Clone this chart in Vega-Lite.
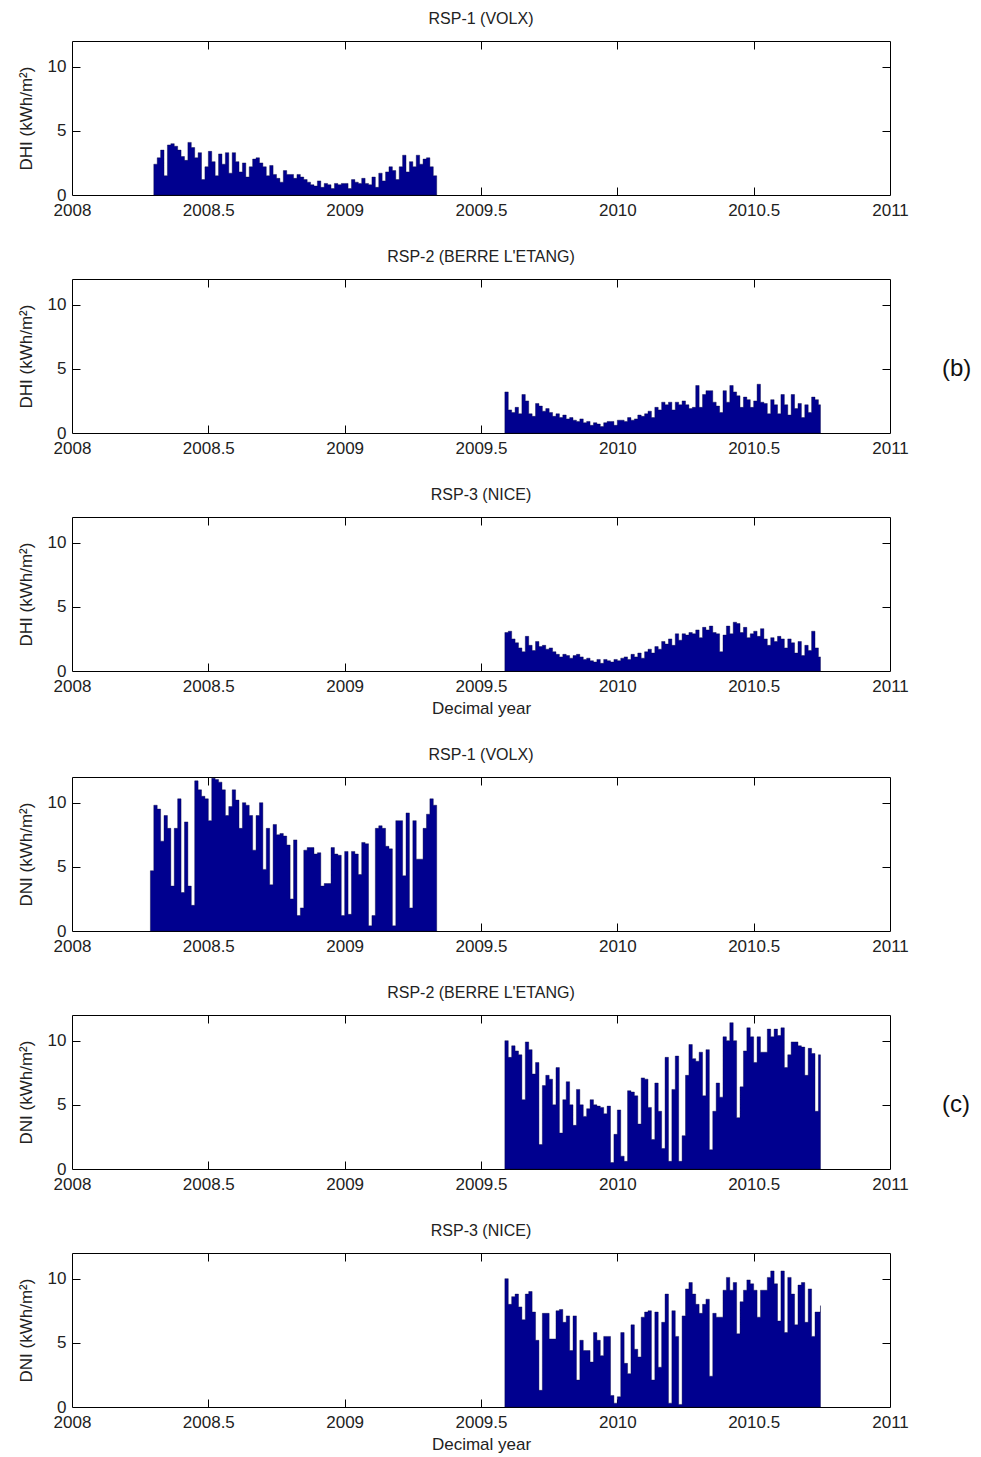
{
  "$schema": "https://vega.github.io/schema/vega-lite/v6.json",
  "padding": {"left": 16, "top": 10, "right": 4, "bottom": 2},
  "background": "white",
  "datasets": {
    "d1": [
      {"year":2008.3,"value":2.4},{"year":2008.3125,"value":2.9},{"year":2008.325,"value":3.5},{"year":2008.3375,"value":1.5},
      {"year":2008.35,"value":3.9},{"year":2008.3625,"value":4.0},{"year":2008.375,"value":3.8},{"year":2008.3875,"value":3.5},
      {"year":2008.4,"value":3.0},{"year":2008.4125,"value":2.7},{"year":2008.425,"value":4.1},{"year":2008.4375,"value":3.7},
      {"year":2008.45,"value":2.9},{"year":2008.4625,"value":3.3},{"year":2008.475,"value":1.2},{"year":2008.4875,"value":2.2},
      {"year":2008.5,"value":3.4},{"year":2008.5125,"value":2.6},{"year":2008.525,"value":1.5},{"year":2008.5375,"value":3.2},
      {"year":2008.55,"value":2.4},{"year":2008.5625,"value":3.3},{"year":2008.575,"value":1.7},{"year":2008.5875,"value":3.3},
      {"year":2008.6,"value":2.6},{"year":2008.6125,"value":1.8},{"year":2008.625,"value":2.5},{"year":2008.6375,"value":1.4},
      {"year":2008.65,"value":2.2},{"year":2008.6625,"value":2.8},{"year":2008.675,"value":2.9},{"year":2008.6875,"value":2.5},
      {"year":2008.7,"value":2.2},{"year":2008.7125,"value":1.5},{"year":2008.725,"value":2.3},{"year":2008.7375,"value":1.6},
      {"year":2008.75,"value":1.3},{"year":2008.7625,"value":1.0},{"year":2008.775,"value":1.9},{"year":2008.7875,"value":1.6},
      {"year":2008.8,"value":1.6},{"year":2008.8125,"value":1.3},{"year":2008.825,"value":1.6},{"year":2008.8375,"value":1.4},
      {"year":2008.85,"value":1.2},{"year":2008.8625,"value":1.0},{"year":2008.875,"value":0.8},{"year":2008.8875,"value":0.7},
      {"year":2008.9,"value":1.1},{"year":2008.9125,"value":0.6},{"year":2008.925,"value":0.9},{"year":2008.9375,"value":0.8},
      {"year":2008.95,"value":0.5},{"year":2008.9625,"value":0.9},{"year":2008.975,"value":0.8},{"year":2008.9875,"value":0.9},
      {"year":2009.0,"value":0.9},{"year":2009.0125,"value":0.5},{"year":2009.025,"value":1.2},{"year":2009.0375,"value":1.0},
      {"year":2009.05,"value":0.9},{"year":2009.0625,"value":1.3},{"year":2009.075,"value":0.9},{"year":2009.0875,"value":0.8},
      {"year":2009.1,"value":1.4},{"year":2009.1125,"value":0.6},{"year":2009.125,"value":1.7},{"year":2009.1375,"value":1.1},
      {"year":2009.15,"value":1.8},{"year":2009.1625,"value":2.2},{"year":2009.175,"value":1.9},{"year":2009.1875,"value":1.2},
      {"year":2009.2,"value":2.2},{"year":2009.2125,"value":3.1},{"year":2009.225,"value":1.8},{"year":2009.2375,"value":2.6},
      {"year":2009.25,"value":2.2},{"year":2009.2625,"value":3.1},{"year":2009.275,"value":2.4},{"year":2009.2875,"value":2.8},
      {"year":2009.3,"value":2.9},{"year":2009.3125,"value":2.2},{"year":2009.325,"value":1.5},{"year":2009.3375,"value":1.5}
    ],
    "d2": [
      {"year":2009.5875,"value":3.2},{"year":2009.6,"value":1.8},{"year":2009.6125,"value":1.6},{"year":2009.625,"value":2.0},
      {"year":2009.6375,"value":1.5},{"year":2009.65,"value":3.0},{"year":2009.6625,"value":2.5},{"year":2009.675,"value":1.5},
      {"year":2009.6875,"value":1.3},{"year":2009.7,"value":2.3},{"year":2009.7125,"value":2.1},{"year":2009.725,"value":1.7},
      {"year":2009.7375,"value":1.9},{"year":2009.75,"value":1.6},{"year":2009.7625,"value":1.3},{"year":2009.775,"value":1.5},
      {"year":2009.7875,"value":1.2},{"year":2009.8,"value":1.4},{"year":2009.8125,"value":1.1},{"year":2009.825,"value":1.2},
      {"year":2009.8375,"value":1.0},{"year":2009.85,"value":0.9},{"year":2009.8625,"value":1.1},{"year":2009.875,"value":0.8},
      {"year":2009.8875,"value":0.9},{"year":2009.9,"value":0.6},{"year":2009.9125,"value":0.8},{"year":2009.925,"value":0.7},
      {"year":2009.9375,"value":0.5},{"year":2009.95,"value":0.8},{"year":2009.9625,"value":0.9},{"year":2009.975,"value":0.9},
      {"year":2009.9875,"value":0.6},{"year":2010.0,"value":1.0},{"year":2010.0125,"value":1.0},{"year":2010.025,"value":0.9},
      {"year":2010.0375,"value":1.2},{"year":2010.05,"value":1.0},{"year":2010.0625,"value":1.1},{"year":2010.075,"value":1.4},
      {"year":2010.0875,"value":1.3},{"year":2010.1,"value":1.5},{"year":2010.1125,"value":1.7},{"year":2010.125,"value":1.2},
      {"year":2010.1375,"value":2.0},{"year":2010.15,"value":1.8},{"year":2010.1625,"value":2.4},{"year":2010.175,"value":2.2},
      {"year":2010.1875,"value":2.4},{"year":2010.2,"value":1.8},{"year":2010.2125,"value":2.4},{"year":2010.225,"value":2.2},
      {"year":2010.2375,"value":2.5},{"year":2010.25,"value":2.2},{"year":2010.2625,"value":1.9},{"year":2010.275,"value":2.0},
      {"year":2010.2875,"value":3.7},{"year":2010.3,"value":2.0},{"year":2010.3125,"value":3.0},{"year":2010.325,"value":3.3},
      {"year":2010.3375,"value":3.3},{"year":2010.35,"value":2.4},{"year":2010.3625,"value":2.1},{"year":2010.375,"value":1.6},
      {"year":2010.3875,"value":3.3},{"year":2010.4,"value":2.4},{"year":2010.4125,"value":3.7},{"year":2010.425,"value":3.2},
      {"year":2010.4375,"value":2.9},{"year":2010.45,"value":2.0},{"year":2010.4625,"value":2.8},{"year":2010.475,"value":2.6},
      {"year":2010.4875,"value":2.0},{"year":2010.5,"value":2.5},{"year":2010.5125,"value":3.8},{"year":2010.525,"value":2.4},
      {"year":2010.5375,"value":2.3},{"year":2010.55,"value":1.5},{"year":2010.5625,"value":2.6},{"year":2010.575,"value":2.2},
      {"year":2010.5875,"value":1.5},{"year":2010.6,"value":3.0},{"year":2010.6125,"value":2.2},{"year":2010.625,"value":1.4},
      {"year":2010.6375,"value":3.0},{"year":2010.65,"value":1.9},{"year":2010.6625,"value":2.3},{"year":2010.675,"value":1.2},
      {"year":2010.6875,"value":2.2},{"year":2010.7,"value":1.6},{"year":2010.7125,"value":2.8},{"year":2010.725,"value":2.6},
      {"year":2010.7375,"value":2.2},{"year":2010.745,"value":2.2}
    ],
    "d3": [
      {"year":2009.5875,"value":3.0},{"year":2009.6,"value":3.1},{"year":2009.6125,"value":2.5},{"year":2009.625,"value":2.2},
      {"year":2009.6375,"value":1.8},{"year":2009.65,"value":1.5},{"year":2009.6625,"value":2.7},{"year":2009.675,"value":2.0},
      {"year":2009.6875,"value":1.6},{"year":2009.7,"value":2.3},{"year":2009.7125,"value":1.9},{"year":2009.725,"value":2.0},
      {"year":2009.7375,"value":1.7},{"year":2009.75,"value":1.8},{"year":2009.7625,"value":1.5},{"year":2009.775,"value":1.3},
      {"year":2009.7875,"value":1.1},{"year":2009.8,"value":1.3},{"year":2009.8125,"value":1.2},{"year":2009.825,"value":1.0},
      {"year":2009.8375,"value":1.2},{"year":2009.85,"value":1.3},{"year":2009.8625,"value":1.1},{"year":2009.875,"value":0.9},
      {"year":2009.8875,"value":1.0},{"year":2009.9,"value":0.8},{"year":2009.9125,"value":0.7},{"year":2009.925,"value":0.9},
      {"year":2009.9375,"value":0.6},{"year":2009.95,"value":0.9},{"year":2009.9625,"value":0.8},{"year":2009.975,"value":0.7},
      {"year":2009.9875,"value":0.9},{"year":2010.0,"value":0.8},{"year":2010.0125,"value":1.0},{"year":2010.025,"value":1.1},
      {"year":2010.0375,"value":0.9},{"year":2010.05,"value":1.3},{"year":2010.0625,"value":1.1},{"year":2010.075,"value":1.4},
      {"year":2010.0875,"value":1.0},{"year":2010.1,"value":1.5},{"year":2010.1125,"value":1.7},{"year":2010.125,"value":1.4},
      {"year":2010.1375,"value":1.9},{"year":2010.15,"value":1.7},{"year":2010.1625,"value":2.3},{"year":2010.175,"value":2.1},
      {"year":2010.1875,"value":2.5},{"year":2010.2,"value":2.0},{"year":2010.2125,"value":2.9},{"year":2010.225,"value":2.4},
      {"year":2010.2375,"value":2.9},{"year":2010.25,"value":2.8},{"year":2010.2625,"value":3.0},{"year":2010.275,"value":2.9},
      {"year":2010.2875,"value":3.2},{"year":2010.3,"value":2.6},{"year":2010.3125,"value":3.4},{"year":2010.325,"value":3.2},
      {"year":2010.3375,"value":3.5},{"year":2010.35,"value":3.0},{"year":2010.3625,"value":2.9},{"year":2010.375,"value":1.5},
      {"year":2010.3875,"value":2.8},{"year":2010.4,"value":3.5},{"year":2010.4125,"value":2.9},{"year":2010.425,"value":3.8},
      {"year":2010.4375,"value":3.7},{"year":2010.45,"value":3.0},{"year":2010.4625,"value":3.4},{"year":2010.475,"value":2.6},
      {"year":2010.4875,"value":2.9},{"year":2010.5,"value":3.1},{"year":2010.5125,"value":2.7},{"year":2010.525,"value":3.3},
      {"year":2010.5375,"value":2.5},{"year":2010.55,"value":2.0},{"year":2010.5625,"value":2.6},{"year":2010.575,"value":2.3},
      {"year":2010.5875,"value":2.7},{"year":2010.6,"value":2.5},{"year":2010.6125,"value":1.8},{"year":2010.625,"value":2.5},
      {"year":2010.6375,"value":2.2},{"year":2010.65,"value":1.4},{"year":2010.6625,"value":2.3},{"year":2010.675,"value":1.2},
      {"year":2010.6875,"value":2.0},{"year":2010.7,"value":1.6},{"year":2010.7125,"value":3.1},{"year":2010.725,"value":1.8},
      {"year":2010.7375,"value":1.1},{"year":2010.745,"value":1.1}
    ],
    "d4": [
      {"year":2008.2875,"value":4.7},{"year":2008.3,"value":9.8},{"year":2008.3125,"value":9.5},{"year":2008.325,"value":7.0},
      {"year":2008.3375,"value":9.0},{"year":2008.35,"value":8.0},{"year":2008.3625,"value":3.5},{"year":2008.375,"value":8.0},
      {"year":2008.3875,"value":10.3},{"year":2008.4,"value":3.0},{"year":2008.4125,"value":8.5},{"year":2008.425,"value":3.5},
      {"year":2008.4375,"value":2.0},{"year":2008.45,"value":11.7},{"year":2008.4625,"value":11.0},{"year":2008.475,"value":10.5},
      {"year":2008.4875,"value":10.3},{"year":2008.5,"value":8.6},{"year":2008.5125,"value":11.9},{"year":2008.525,"value":11.8},
      {"year":2008.5375,"value":11.6},{"year":2008.55,"value":11.0},{"year":2008.5625,"value":9.0},{"year":2008.575,"value":9.7},
      {"year":2008.5875,"value":11.0},{"year":2008.6,"value":10.2},{"year":2008.6125,"value":8.0},{"year":2008.625,"value":10.0},
      {"year":2008.6375,"value":9.8},{"year":2008.65,"value":9.0},{"year":2008.6625,"value":6.3},{"year":2008.675,"value":9.0},
      {"year":2008.6875,"value":10.0},{"year":2008.7,"value":4.8},{"year":2008.7125,"value":8.0},{"year":2008.725,"value":3.6},
      {"year":2008.7375,"value":8.3},{"year":2008.75,"value":7.5},{"year":2008.7625,"value":7.6},{"year":2008.775,"value":7.4},
      {"year":2008.7875,"value":6.7},{"year":2008.8,"value":2.5},{"year":2008.8125,"value":7.1},{"year":2008.825,"value":1.2},
      {"year":2008.8375,"value":1.8},{"year":2008.85,"value":6.3},{"year":2008.8625,"value":6.5},{"year":2008.875,"value":6.5},
      {"year":2008.8875,"value":6.0},{"year":2008.9,"value":6.1},{"year":2008.9125,"value":3.5},{"year":2008.925,"value":3.7},
      {"year":2008.9375,"value":3.7},{"year":2008.95,"value":6.5},{"year":2008.9625,"value":6.0},{"year":2008.975,"value":5.9},
      {"year":2008.9875,"value":1.2},{"year":2009.0,"value":6.2},{"year":2009.0125,"value":1.3},{"year":2009.025,"value":6.2},
      {"year":2009.0375,"value":6.0},{"year":2009.05,"value":4.4},{"year":2009.0625,"value":6.9},{"year":2009.075,"value":6.8},
      {"year":2009.0875,"value":0.4},{"year":2009.1,"value":1.2},{"year":2009.1125,"value":8.0},{"year":2009.125,"value":8.2},
      {"year":2009.1375,"value":8.0},{"year":2009.15,"value":6.6},{"year":2009.1625,"value":6.4},{"year":2009.175,"value":0.4},
      {"year":2009.1875,"value":8.6},{"year":2009.2,"value":8.6},{"year":2009.2125,"value":4.3},{"year":2009.225,"value":9.2},
      {"year":2009.2375,"value":1.8},{"year":2009.25,"value":8.6},{"year":2009.2625,"value":5.6},{"year":2009.275,"value":5.6},
      {"year":2009.2875,"value":8.0},{"year":2009.3,"value":9.1},{"year":2009.3125,"value":10.3},{"year":2009.325,"value":9.8},
      {"year":2009.3375,"value":8.8}
    ],
    "d5": [
      {"year":2009.5875,"value":10.0},{"year":2009.6,"value":8.7},{"year":2009.6125,"value":9.6},{"year":2009.625,"value":9.2},
      {"year":2009.6375,"value":8.9},{"year":2009.65,"value":5.4},{"year":2009.6625,"value":9.9},{"year":2009.675,"value":9.3},
      {"year":2009.6875,"value":7.4},{"year":2009.7,"value":8.3},{"year":2009.7125,"value":1.9},{"year":2009.725,"value":6.5},
      {"year":2009.7375,"value":7.3},{"year":2009.75,"value":7.0},{"year":2009.7625,"value":5.0},{"year":2009.775,"value":7.9},
      {"year":2009.7875,"value":2.8},{"year":2009.8,"value":5.4},{"year":2009.8125,"value":6.8},{"year":2009.825,"value":5.0},
      {"year":2009.8375,"value":3.4},{"year":2009.85,"value":6.2},{"year":2009.8625,"value":5.0},{"year":2009.875,"value":4.1},
      {"year":2009.8875,"value":4.7},{"year":2009.9,"value":5.4},{"year":2009.9125,"value":5.0},{"year":2009.925,"value":4.9},
      {"year":2009.9375,"value":4.8},{"year":2009.95,"value":4.3},{"year":2009.9625,"value":4.9},{"year":2009.975,"value":0.5},
      {"year":2009.9875,"value":2.7},{"year":2010.0,"value":4.6},{"year":2010.0125,"value":1.0},{"year":2010.025,"value":0.6},
      {"year":2010.0375,"value":6.1},{"year":2010.05,"value":6.0},{"year":2010.0625,"value":5.7},{"year":2010.075,"value":3.5},
      {"year":2010.0875,"value":7.1},{"year":2010.1,"value":7.0},{"year":2010.1125,"value":4.8},{"year":2010.125,"value":2.3},
      {"year":2010.1375,"value":6.7},{"year":2010.15,"value":4.5},{"year":2010.1625,"value":1.6},{"year":2010.175,"value":8.7},
      {"year":2010.1875,"value":0.6},{"year":2010.2,"value":6.2},{"year":2010.2125,"value":8.8},{"year":2010.225,"value":0.6},
      {"year":2010.2375,"value":2.6},{"year":2010.25,"value":7.3},{"year":2010.2625,"value":9.7},{"year":2010.275,"value":8.6},
      {"year":2010.2875,"value":8.4},{"year":2010.3,"value":9.1},{"year":2010.3125,"value":5.7},{"year":2010.325,"value":9.3},
      {"year":2010.3375,"value":1.5},{"year":2010.35,"value":4.5},{"year":2010.3625,"value":6.7},{"year":2010.375,"value":5.6},
      {"year":2010.3875,"value":10.3},{"year":2010.4,"value":10.0},{"year":2010.4125,"value":11.4},{"year":2010.425,"value":10.0},
      {"year":2010.4375,"value":4.0},{"year":2010.45,"value":6.4},{"year":2010.4625,"value":9.2},{"year":2010.475,"value":11.0},
      {"year":2010.4875,"value":10.3},{"year":2010.5,"value":8.3},{"year":2010.5125,"value":10.3},{"year":2010.525,"value":9.1},
      {"year":2010.5375,"value":9.1},{"year":2010.55,"value":10.9},{"year":2010.5625,"value":10.3},{"year":2010.575,"value":10.9},
      {"year":2010.5875,"value":10.4},{"year":2010.6,"value":11.0},{"year":2010.6125,"value":7.9},{"year":2010.625,"value":8.9},
      {"year":2010.6375,"value":9.9},{"year":2010.65,"value":9.9},{"year":2010.6625,"value":9.6},{"year":2010.675,"value":9.5},
      {"year":2010.6875,"value":7.3},{"year":2010.7,"value":9.4},{"year":2010.7125,"value":9.0},{"year":2010.725,"value":4.5},
      {"year":2010.7375,"value":8.9},{"year":2010.745,"value":8.9}
    ],
    "d6": [
      {"year":2009.5875,"value":10.0},{"year":2009.6,"value":8.0},{"year":2009.6125,"value":8.6},{"year":2009.625,"value":8.8},
      {"year":2009.6375,"value":7.8},{"year":2009.65,"value":6.8},{"year":2009.6625,"value":8.8},{"year":2009.675,"value":9.0},
      {"year":2009.6875,"value":7.4},{"year":2009.7,"value":5.2},{"year":2009.7125,"value":1.3},{"year":2009.725,"value":7.3},
      {"year":2009.7375,"value":7.3},{"year":2009.75,"value":5.3},{"year":2009.7625,"value":5.3},{"year":2009.775,"value":7.5},
      {"year":2009.7875,"value":7.6},{"year":2009.8,"value":6.6},{"year":2009.8125,"value":7.1},{"year":2009.825,"value":4.4},
      {"year":2009.8375,"value":7.1},{"year":2009.85,"value":2.1},{"year":2009.8625,"value":5.2},{"year":2009.875,"value":4.4},
      {"year":2009.8875,"value":4.4},{"year":2009.9,"value":3.5},{"year":2009.9125,"value":5.8},{"year":2009.925,"value":5.2},
      {"year":2009.9375,"value":4.0},{"year":2009.95,"value":5.5},{"year":2009.9625,"value":5.5},{"year":2009.975,"value":0.9},
      {"year":2009.9875,"value":0.3},{"year":2010.0,"value":0.8},{"year":2010.0125,"value":5.8},{"year":2010.025,"value":3.4},
      {"year":2010.0375,"value":2.6},{"year":2010.05,"value":6.4},{"year":2010.0625,"value":4.5},{"year":2010.075,"value":3.9},
      {"year":2010.0875,"value":7.0},{"year":2010.1,"value":7.4},{"year":2010.1125,"value":7.5},{"year":2010.125,"value":2.1},
      {"year":2010.1375,"value":7.4},{"year":2010.15,"value":3.1},{"year":2010.1625,"value":6.6},{"year":2010.175,"value":8.8},
      {"year":2010.1875,"value":0.3},{"year":2010.2,"value":7.5},{"year":2010.2125,"value":5.5},{"year":2010.225,"value":0.2},
      {"year":2010.2375,"value":7.1},{"year":2010.25,"value":9.2},{"year":2010.2625,"value":9.7},{"year":2010.275,"value":8.8},
      {"year":2010.2875,"value":8.0},{"year":2010.3,"value":7.3},{"year":2010.3125,"value":8.0},{"year":2010.325,"value":8.4},
      {"year":2010.3375,"value":2.4},{"year":2010.35,"value":7.3},{"year":2010.3625,"value":7.0},{"year":2010.375,"value":7.0},
      {"year":2010.3875,"value":9.1},{"year":2010.4,"value":10.1},{"year":2010.4125,"value":9.1},{"year":2010.425,"value":9.7},
      {"year":2010.4375,"value":5.7},{"year":2010.45,"value":8.2},{"year":2010.4625,"value":9.1},{"year":2010.475,"value":9.9},
      {"year":2010.4875,"value":9.6},{"year":2010.5,"value":9.1},{"year":2010.5125,"value":7.0},{"year":2010.525,"value":9.1},
      {"year":2010.5375,"value":9.1},{"year":2010.55,"value":10.1},{"year":2010.5625,"value":10.6},{"year":2010.575,"value":9.6},
      {"year":2010.5875,"value":6.7},{"year":2010.6,"value":10.6},{"year":2010.6125,"value":5.8},{"year":2010.625,"value":10.1},
      {"year":2010.6375,"value":8.8},{"year":2010.65,"value":6.4},{"year":2010.6625,"value":9.5},{"year":2010.675,"value":9.7},
      {"year":2010.6875,"value":6.6},{"year":2010.7,"value":9.2},{"year":2010.7125,"value":5.5},{"year":2010.725,"value":7.4},
      {"year":2010.7375,"value":7.4},{"year":2010.745,"value":7.9}
    ]
  },
  "vconcat": [
    {
      "title": "RSP-1 (VOLX)", "width": 818, "height": 154, "data": {"name": "d1"},
      "layer": [
        {"mark": {"type": "area", "interpolate": "step-after", "color": "#00008F", "stroke": "#000040", "strokeWidth": 0.4},
         "encoding": {
           "x": {"field": "year", "type": "quantitative", "scale": {"domain": [2008, 2011], "nice": false, "zero": false},
                 "axis": {"orient": "bottom", "values": [2008, 2008.5, 2009, 2009.5, 2010, 2010.5, 2011], "format": ".6~g", "ticks": false, "tickSize": 0, "labelPadding": 7, "title": null}},
           "y": {"field": "value", "type": "quantitative", "scale": {"domain": [0, 12], "nice": false},
                 "axis": {"orient": "left", "values": [0, 5, 10], "ticks": false, "tickSize": 0, "labelPadding": 6, "title": "DHI (kWh/m²)", "titlePadding": 12}}}},
        {"mark": {"type": "area", "opacity": 0},
         "encoding": {
           "x": {"field": "year", "type": "quantitative", "axis": {"orient": "bottom", "values": [2008.5, 2009, 2009.5, 2010, 2010.5], "labels": false, "tickSize": 8, "offset": -8, "title": null}},
           "y": {"field": "value", "type": "quantitative", "axis": {"orient": "left", "values": [5, 10], "labels": false, "tickSize": 8, "offset": -8, "title": null}}}},
        {"mark": {"type": "area", "opacity": 0},
         "encoding": {
           "x": {"field": "year", "type": "quantitative", "axis": {"orient": "top", "values": [2008.5, 2009, 2009.5, 2010, 2010.5], "labels": false, "tickSize": 8, "offset": -8, "title": null}},
           "y": {"field": "value", "type": "quantitative", "axis": {"orient": "right", "values": [5, 10], "labels": false, "tickSize": 8, "offset": -8, "title": null}}}}
      ],
      "resolve": {"axis": {"x": "independent", "y": "independent"}}
    },
    {
      "title": "RSP-2 (BERRE L'ETANG)", "width": 818, "height": 154, "data": {"name": "d2"},
      "layer": [
        {"mark": {"type": "area", "interpolate": "step-after", "color": "#00008F", "stroke": "#000040", "strokeWidth": 0.4},
         "encoding": {
           "x": {"field": "year", "type": "quantitative", "scale": {"domain": [2008, 2011], "nice": false, "zero": false},
                 "axis": {"orient": "bottom", "values": [2008, 2008.5, 2009, 2009.5, 2010, 2010.5, 2011], "format": ".6~g", "ticks": false, "tickSize": 0, "labelPadding": 7, "title": null}},
           "y": {"field": "value", "type": "quantitative", "scale": {"domain": [0, 12], "nice": false},
                 "axis": {"orient": "left", "values": [0, 5, 10], "ticks": false, "tickSize": 0, "labelPadding": 6, "title": "DHI (kWh/m²)", "titlePadding": 12}}}},
        {"mark": {"type": "area", "opacity": 0},
         "encoding": {
           "x": {"field": "year", "type": "quantitative", "axis": {"orient": "bottom", "values": [2008.5, 2009, 2009.5, 2010, 2010.5], "labels": false, "tickSize": 8, "offset": -8, "title": null}},
           "y": {"field": "value", "type": "quantitative", "axis": {"orient": "left", "values": [5, 10], "labels": false, "tickSize": 8, "offset": -8, "title": null}}}},
        {"mark": {"type": "area", "opacity": 0},
         "encoding": {
           "x": {"field": "year", "type": "quantitative", "axis": {"orient": "top", "values": [2008.5, 2009, 2009.5, 2010, 2010.5], "labels": false, "tickSize": 8, "offset": -8, "title": null}},
           "y": {"field": "value", "type": "quantitative", "axis": {"orient": "right", "values": [5, 10], "labels": false, "tickSize": 8, "offset": -8, "title": "(b)", "titleAngle": 0, "titleAlign": "left", "titleBaseline": "top", "titleFontSize": 24, "titleColor": "#111", "titlePadding": 51}}}}
      ],
      "resolve": {"axis": {"x": "independent", "y": "independent"}}
    },
    {
      "title": "RSP-3 (NICE)", "width": 818, "height": 154, "data": {"name": "d3"},
      "layer": [
        {"mark": {"type": "area", "interpolate": "step-after", "color": "#00008F", "stroke": "#000040", "strokeWidth": 0.4},
         "encoding": {
           "x": {"field": "year", "type": "quantitative", "scale": {"domain": [2008, 2011], "nice": false, "zero": false},
                 "axis": {"orient": "bottom", "values": [2008, 2008.5, 2009, 2009.5, 2010, 2010.5, 2011], "format": ".6~g", "ticks": false, "tickSize": 0, "labelPadding": 7, "title": "Decimal year", "titlePadding": 6}},
           "y": {"field": "value", "type": "quantitative", "scale": {"domain": [0, 12], "nice": false},
                 "axis": {"orient": "left", "values": [0, 5, 10], "ticks": false, "tickSize": 0, "labelPadding": 6, "title": "DHI (kWh/m²)", "titlePadding": 12}}}},
        {"mark": {"type": "area", "opacity": 0},
         "encoding": {
           "x": {"field": "year", "type": "quantitative", "axis": {"orient": "bottom", "values": [2008.5, 2009, 2009.5, 2010, 2010.5], "labels": false, "tickSize": 8, "offset": -8, "title": null}},
           "y": {"field": "value", "type": "quantitative", "axis": {"orient": "left", "values": [5, 10], "labels": false, "tickSize": 8, "offset": -8, "title": null}}}},
        {"mark": {"type": "area", "opacity": 0},
         "encoding": {
           "x": {"field": "year", "type": "quantitative", "axis": {"orient": "top", "values": [2008.5, 2009, 2009.5, 2010, 2010.5], "labels": false, "tickSize": 8, "offset": -8, "title": null}},
           "y": {"field": "value", "type": "quantitative", "axis": {"orient": "right", "values": [5, 10], "labels": false, "tickSize": 8, "offset": -8, "title": null}}}}
      ],
      "resolve": {"axis": {"x": "independent", "y": "independent"}}
    },
    {
      "title": "RSP-1 (VOLX)", "width": 818, "height": 154, "data": {"name": "d4"},
      "layer": [
        {"mark": {"type": "area", "interpolate": "step-after", "color": "#00008F", "stroke": "#000040", "strokeWidth": 0.4},
         "encoding": {
           "x": {"field": "year", "type": "quantitative", "scale": {"domain": [2008, 2011], "nice": false, "zero": false},
                 "axis": {"orient": "bottom", "values": [2008, 2008.5, 2009, 2009.5, 2010, 2010.5, 2011], "format": ".6~g", "ticks": false, "tickSize": 0, "labelPadding": 7, "title": null}},
           "y": {"field": "value", "type": "quantitative", "scale": {"domain": [0, 12], "nice": false},
                 "axis": {"orient": "left", "values": [0, 5, 10], "ticks": false, "tickSize": 0, "labelPadding": 6, "title": "DNI (kWh/m²)", "titlePadding": 12}}}},
        {"mark": {"type": "area", "opacity": 0},
         "encoding": {
           "x": {"field": "year", "type": "quantitative", "axis": {"orient": "bottom", "values": [2008.5, 2009, 2009.5, 2010, 2010.5], "labels": false, "tickSize": 8, "offset": -8, "title": null}},
           "y": {"field": "value", "type": "quantitative", "axis": {"orient": "left", "values": [5, 10], "labels": false, "tickSize": 8, "offset": -8, "title": null}}}},
        {"mark": {"type": "area", "opacity": 0},
         "encoding": {
           "x": {"field": "year", "type": "quantitative", "axis": {"orient": "top", "values": [2008.5, 2009, 2009.5, 2010, 2010.5], "labels": false, "tickSize": 8, "offset": -8, "title": null}},
           "y": {"field": "value", "type": "quantitative", "axis": {"orient": "right", "values": [5, 10], "labels": false, "tickSize": 8, "offset": -8, "title": null}}}}
      ],
      "resolve": {"axis": {"x": "independent", "y": "independent"}}
    },
    {
      "title": "RSP-2 (BERRE L'ETANG)", "width": 818, "height": 154, "data": {"name": "d5"},
      "layer": [
        {"mark": {"type": "area", "interpolate": "step-after", "color": "#00008F", "stroke": "#000040", "strokeWidth": 0.4},
         "encoding": {
           "x": {"field": "year", "type": "quantitative", "scale": {"domain": [2008, 2011], "nice": false, "zero": false},
                 "axis": {"orient": "bottom", "values": [2008, 2008.5, 2009, 2009.5, 2010, 2010.5, 2011], "format": ".6~g", "ticks": false, "tickSize": 0, "labelPadding": 7, "title": null}},
           "y": {"field": "value", "type": "quantitative", "scale": {"domain": [0, 12], "nice": false},
                 "axis": {"orient": "left", "values": [0, 5, 10], "ticks": false, "tickSize": 0, "labelPadding": 6, "title": "DNI (kWh/m²)", "titlePadding": 12}}}},
        {"mark": {"type": "area", "opacity": 0},
         "encoding": {
           "x": {"field": "year", "type": "quantitative", "axis": {"orient": "bottom", "values": [2008.5, 2009, 2009.5, 2010, 2010.5], "labels": false, "tickSize": 8, "offset": -8, "title": null}},
           "y": {"field": "value", "type": "quantitative", "axis": {"orient": "left", "values": [5, 10], "labels": false, "tickSize": 8, "offset": -8, "title": null}}}},
        {"mark": {"type": "area", "opacity": 0},
         "encoding": {
           "x": {"field": "year", "type": "quantitative", "axis": {"orient": "top", "values": [2008.5, 2009, 2009.5, 2010, 2010.5], "labels": false, "tickSize": 8, "offset": -8, "title": null}},
           "y": {"field": "value", "type": "quantitative", "axis": {"orient": "right", "values": [5, 10], "labels": false, "tickSize": 8, "offset": -8, "title": "(c)", "titleAngle": 0, "titleAlign": "left", "titleBaseline": "top", "titleFontSize": 24, "titleColor": "#111", "titlePadding": 51}}}}
      ],
      "resolve": {"axis": {"x": "independent", "y": "independent"}}
    },
    {
      "title": "RSP-3 (NICE)", "width": 818, "height": 154, "data": {"name": "d6"},
      "layer": [
        {"mark": {"type": "area", "interpolate": "step-after", "color": "#00008F", "stroke": "#000040", "strokeWidth": 0.4},
         "encoding": {
           "x": {"field": "year", "type": "quantitative", "scale": {"domain": [2008, 2011], "nice": false, "zero": false},
                 "axis": {"orient": "bottom", "values": [2008, 2008.5, 2009, 2009.5, 2010, 2010.5, 2011], "format": ".6~g", "ticks": false, "tickSize": 0, "labelPadding": 7, "title": "Decimal year", "titlePadding": 6}},
           "y": {"field": "value", "type": "quantitative", "scale": {"domain": [0, 12], "nice": false},
                 "axis": {"orient": "left", "values": [0, 5, 10], "ticks": false, "tickSize": 0, "labelPadding": 6, "title": "DNI (kWh/m²)", "titlePadding": 12}}}},
        {"mark": {"type": "area", "opacity": 0},
         "encoding": {
           "x": {"field": "year", "type": "quantitative", "axis": {"orient": "bottom", "values": [2008.5, 2009, 2009.5, 2010, 2010.5], "labels": false, "tickSize": 8, "offset": -8, "title": null}},
           "y": {"field": "value", "type": "quantitative", "axis": {"orient": "left", "values": [5, 10], "labels": false, "tickSize": 8, "offset": -8, "title": null}}}},
        {"mark": {"type": "area", "opacity": 0},
         "encoding": {
           "x": {"field": "year", "type": "quantitative", "axis": {"orient": "top", "values": [2008.5, 2009, 2009.5, 2010, 2010.5], "labels": false, "tickSize": 8, "offset": -8, "title": null}},
           "y": {"field": "value", "type": "quantitative", "axis": {"orient": "right", "values": [5, 10], "labels": false, "tickSize": 8, "offset": -8, "title": null}}}}
      ],
      "resolve": {"axis": {"x": "independent", "y": "independent"}}
    }
  ],
  "spacing": 29,
  "config": {
    "font": "Liberation Sans",
    "view": {"stroke": "#000", "strokeWidth": 1},
    "axis": {"domain": false, "grid": false, "labelFont": "Liberation Sans", "labelFontSize": 17, "labelColor": "#222",
             "titleFont": "Liberation Sans", "titleFontSize": 17, "titleFontWeight": "normal", "titleColor": "#222",
             "tickColor": "#000", "tickWidth": 1, "labelFlush": false, "labelOverlap": false},
    "title": {"font": "Liberation Sans", "fontSize": 16, "fontWeight": "normal", "color": "#222", "offset": 14}
  }
}
